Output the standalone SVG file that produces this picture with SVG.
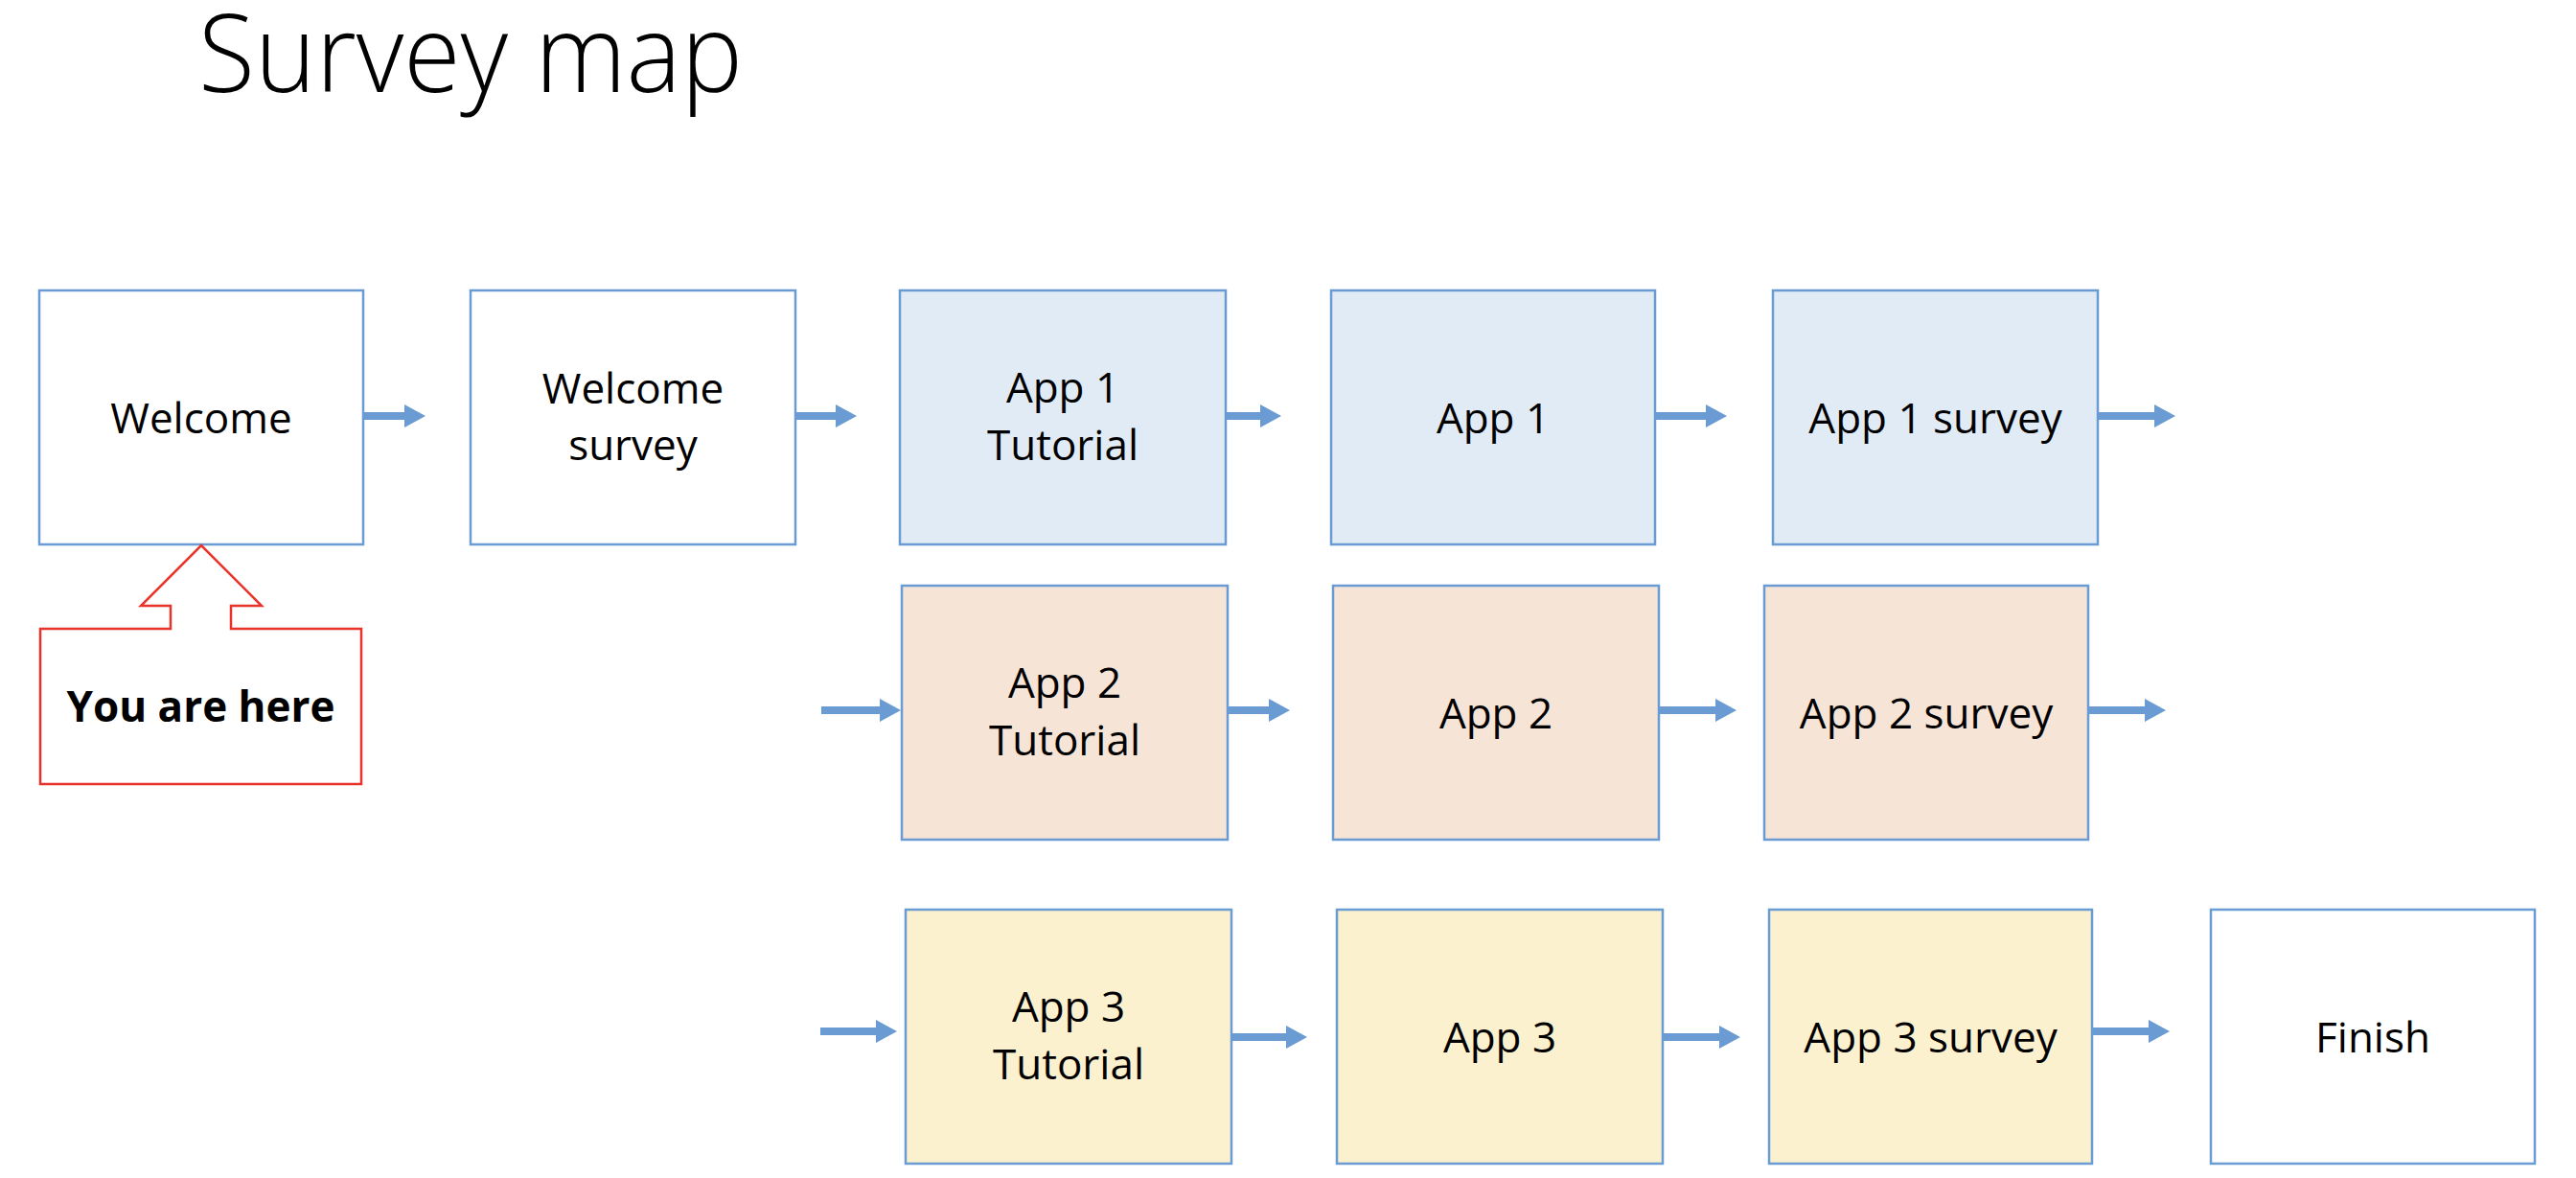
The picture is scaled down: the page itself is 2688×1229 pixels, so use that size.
<svg xmlns="http://www.w3.org/2000/svg" width="2688" height="1229" viewBox="0 0 2688 1229">
<style>
.box{stroke:#6A9BD2;stroke-width:2.5}
.w{fill:#FFFFFF}.b{fill:#E0EBF5}.o{fill:#F6E4D7}.y{fill:#FBF1CF}
.lbl{font-family:"Open Sans","Liberation Sans",sans-serif;font-size:44px;fill:#000;text-anchor:middle}
.arr{fill:#6A9BD2}
</style>
<rect width="2688" height="1229" fill="#FFFFFF"/>
<text x="207" y="96" font-family="'Open Sans','Liberation Sans',sans-serif" font-weight="300" font-size="112" textLength="568" lengthAdjust="spacingAndGlyphs" fill="#000">Survey map</text>

<g id="welcome"><rect class="box w" x="41" y="303" width="338" height="265"/><text class="lbl" x="210" y="452">Welcome</text></g>
<g id="welcome-survey"><rect class="box w" x="491" y="303" width="339" height="265"/><text class="lbl" x="660.5" y="421">Welcome</text><text class="lbl" x="660.5" y="480">survey</text></g>
<g id="app1-tutorial"><rect class="box b" x="939" y="303" width="340" height="265"/><text class="lbl" x="1109" y="420">App 1</text><text class="lbl" x="1109" y="480">Tutorial</text></g>
<g id="app1"><rect class="box b" x="1389" y="303" width="338" height="265"/><text class="lbl" x="1558" y="452">App 1</text></g>
<g id="app1-survey"><rect class="box b" x="1850" y="303" width="339" height="265"/><text class="lbl" x="2019.5" y="452">App 1 survey</text></g>

<g id="app2-tutorial"><rect class="box o" x="941" y="611" width="340" height="265"/><text class="lbl" x="1111" y="728">App 2</text><text class="lbl" x="1111" y="788">Tutorial</text></g>
<g id="app2"><rect class="box o" x="1391" y="611" width="340" height="265"/><text class="lbl" x="1561" y="760">App 2</text></g>
<g id="app2-survey"><rect class="box o" x="1841" y="611" width="338" height="265"/><text class="lbl" x="2010" y="760">App 2 survey</text></g>

<g id="app3-tutorial"><rect class="box y" x="945" y="949" width="340" height="265"/><text class="lbl" x="1115" y="1066">App 3</text><text class="lbl" x="1115" y="1126">Tutorial</text></g>
<g id="app3"><rect class="box y" x="1395" y="949" width="340" height="265"/><text class="lbl" x="1565" y="1098">App 3</text></g>
<g id="app3-survey"><rect class="box y" x="1846" y="949" width="337" height="265"/><text class="lbl" x="2014.5" y="1098">App 3 survey</text></g>
<g id="finish"><rect class="box w" x="2307" y="949" width="338" height="265"/><text class="lbl" x="2476" y="1098">Finish</text></g>

<g id="you-are-here"><path d="M42 656 H178 V632 H147 L210 569 L273 632 H241 V656 H377 V818 H42 Z" fill="#FFFFFF" stroke="#E8322A" stroke-width="2.5"/><text class="lbl" x="209.5" y="753" font-weight="bold" font-size="42">You are here</text></g>

<g id="connectors" class="arr">
<path d="M379 430 H422 V422 L444 434 L422 446 V438 H379 Z"/>
<path d="M830 430 H872 V422 L894 434 L872 446 V438 H830 Z"/>
<path d="M1279 430 H1315 V422 L1337 434 L1315 446 V438 H1279 Z"/>
<path d="M1727 430 H1780 V422 L1802 434 L1780 446 V438 H1727 Z"/>
<path d="M2189 430 H2248 V422 L2270 434 L2248 446 V438 H2189 Z"/>
<path d="M857 737 H918 V729 L940 741 L918 753 V745 H857 Z"/>
<path d="M1281 737 H1324 V729 L1346 741 L1324 753 V745 H1281 Z"/>
<path d="M1731 737 H1790 V729 L1812 741 L1790 753 V745 H1731 Z"/>
<path d="M2179 737 H2238 V729 L2260 741 L2238 753 V745 H2179 Z"/>
<path d="M856 1072 H914 V1064 L936 1076 L914 1088 V1080 H856 Z"/>
<path d="M1285 1078 H1342 V1070 L1364 1082 L1342 1094 V1086 H1285 Z"/>
<path d="M1735 1078 H1794 V1070 L1816 1082 L1794 1094 V1086 H1735 Z"/>
<path d="M2183 1072 H2242 V1064 L2264 1076 L2242 1088 V1080 H2183 Z"/>
</g>
</svg>
